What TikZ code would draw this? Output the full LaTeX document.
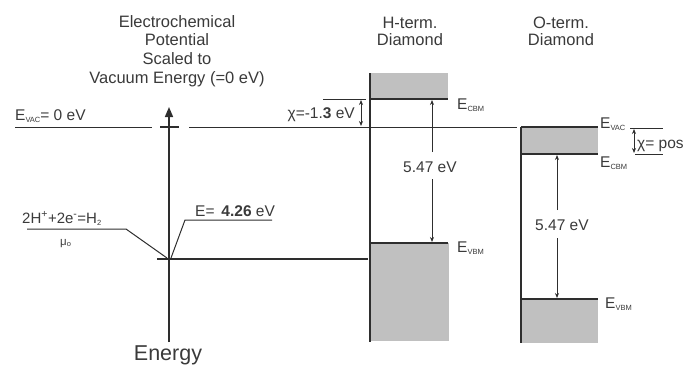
\documentclass[tikz,border=0pt]{standalone}
\usepackage{fontspec}
\setmainfont{Liberation Sans}
\usetikzlibrary{arrows.meta}
\definecolor{ink}{HTML}{2E2E2E}
\definecolor{txtc}{HTML}{3A3A3A}
\definecolor{band}{HTML}{C0C0C0}
\newcommand\lsub[1]{\raisebox{-0.3ex}{\fontsize{7.5}{8}\selectfont #1}}
\begin{document}
\begin{tikzpicture}[x=1pt,y=-1pt,
  txt/.style={inner sep=0pt, text=txtc, font=\fontsize{15.5}{18}\selectfont},
  ttl/.style={txt, anchor=base, font=\fontsize{16.5}{19}\selectfont},
  thinl/.style={draw=ink, line width=1pt},
  thickl/.style={draw=ink, line width=2pt},
  medl/.style={draw=ink, line width=1.5pt},
  arr/.style={draw=ink, line width=0.8pt, -{Stealth[length=5pt,width=4pt]}},
  darr/.style={draw=ink, line width=0.8pt, {Stealth[length=5pt,width=4pt]}-{Stealth[length=5pt,width=4pt]}},
  bandbox/.style={fill=band, draw=none}]
\useasboundingbox (0,0) rectangle (687,365);

% titles
\node[ttl] (t1) at (177,27) {Electrochemical};
\node[ttl] (t2) at (177,45.5) {Potential};
\node[ttl] (t3) at (177,64.5) {Scaled to};
\node[ttl] (t4) at (177,83) {Vacuum Energy (=0 eV)};
\node[ttl] (h1) at (410,28) {H-term.};
\node[ttl] (h2) at (410,45) {Diamond};
\node[ttl] (o1) at (561,28) {O-term.};
\node[ttl] (o2) at (561,45) {Diamond};

% vacuum level
\node[txt, anchor=base west] (evac) at (15,120) {E\lsub{VAC}= 0 eV};
\coordinate (vl1) at (15,127); \coordinate (vl2) at (152,127);
\draw[thinl] (vl1) -- (vl2);
\coordinate (tk1) at (160,127); \coordinate (tk2) at (179,127);
\draw[medl] (tk1) -- (tk2);
\coordinate (vr1) at (189,127); \coordinate (vr2) at (517,127);
\draw[thinl] (vr1) -- (vr2);

% energy axis
\coordinate (ax0) at (169,342); \coordinate (ax1) at (169,107);
\draw[draw=ink, line width=1.6pt, -{Triangle[length=10pt,width=8pt]}] (ax0) -- (ax1);
\node[txt, anchor=base, font=\fontsize{21.5}{24}\selectfont] (energy) at (168,360) {Energy};

% electrochemical potential level
\coordinate (mu0) at (157,259); \coordinate (mu1) at (368,259);
\draw[medl] (mu0) -- (mu1);
\coordinate (ax) at (169,259);
\node[txt, anchor=base west] (eval) at (195,216) {E=\, \textbf{4.26} eV};
\coordinate (e1) at (272,220); \coordinate (e2) at (185,220);
\draw[thinl] (e1) -- (e2) -- (171,258);
\node[txt, anchor=base west, font=\fontsize{15}{18}\selectfont] (redox) at (22,223) {2H\textsuperscript{+}+2e\textsuperscript{-}=H\lsub{2}};
\coordinate (r1) at (27,229); \coordinate (r2) at (126,229);
\draw[thinl] (r1) -- (r2) -- (167,258);
\node[txt, anchor=base west, font=\fontsize{11.5}{12}\selectfont] (muo) at (60,245) {μ\lsub{o}};

% H-terminated diamond
\fill[bandbox] (371,73) rectangle (448,99);
\fill[bandbox] (371,243) rectangle (449,341);
\coordinate (hv0) at (370,73); \coordinate (hv1) at (370,342);
\draw[thickl] (hv0) -- (hv1);
\coordinate (hc0) at (370,99); \coordinate (hc1) at (448,99);
\draw[thickl] (hc0) -- (hc1);
\coordinate (hb0) at (370,243); \coordinate (hb1) at (448,243);
\draw[thickl] (hb0) -- (hb1);
\node[txt, anchor=base west] (hcbm) at (457,109) {E\lsub{CBM}};
\node[txt, anchor=base west] (hvbm) at (457,252) {E\lsub{VBM}};
\coordinate (hg0) at (323,99); \coordinate (hg1) at (366,99);
\draw[thinl] (hg0) -- (hg1);
\coordinate (hx0) at (361,100); \coordinate (hx1) at (361,126);
\draw[darr] (hx0) -- (hx1);
\node[txt, anchor=base east] (hchi) at (355,118) {χ=-1.\textbf{3} eV};
\node[txt, anchor=base west] (hgap) at (403,172) {5.47 eV};
\coordinate (ha0) at (432,152); \coordinate (ha1) at (432,100);
\draw[arr] (ha0) -- (ha1);
\coordinate (ha2) at (432,179); \coordinate (ha3) at (432,242);
\draw[arr] (ha2) -- (ha3);

% O-terminated diamond
\fill[bandbox] (522,127) rectangle (598,154);
\fill[bandbox] (522,299) rectangle (598,343);
\coordinate (ov0) at (521,127); \coordinate (ov1) at (521,343);
\draw[thickl] (ov0) -- (ov1);
\coordinate (ot0) at (521,127); \coordinate (ot1) at (598,127);
\draw[thickl] (ot0) -- (ot1);
\coordinate (oc0) at (521,154); \coordinate (oc1) at (598,154);
\draw[thickl] (oc0) -- (oc1);
\coordinate (ob0) at (521,299); \coordinate (ob1) at (598,299);
\draw[thickl] (ob0) -- (ob1);
\node[txt, anchor=base west] (ovac) at (600,128) {E\lsub{VAC}};
\node[txt, anchor=base west] (ocbm) at (600,167) {E\lsub{CBM}};
\node[txt, anchor=base west] (ovbm) at (605,308) {E\lsub{VBM}};
\coordinate (og0) at (630,128); \coordinate (og1) at (663,128);
\draw[thinl] (og0) -- (og1);
\coordinate (og2) at (635,154); \coordinate (og3) at (663,154);
\draw[thinl] (og2) -- (og3);
\coordinate (ox0) at (634,129); \coordinate (ox1) at (634,153);
\draw[darr] (ox0) -- (ox1);
\node[txt, anchor=base west] (ochi) at (637,148) {χ= pos};
\node[txt, anchor=base west] (ogap) at (535,230) {5.47 eV};
\coordinate (oa0) at (557,210); \coordinate (oa1) at (557,155);
\draw[arr] (oa0) -- (oa1);
\coordinate (oa2) at (557,238); \coordinate (oa3) at (557,298);
\draw[arr] (oa2) -- (oa3);
\end{tikzpicture}
\end{document}
